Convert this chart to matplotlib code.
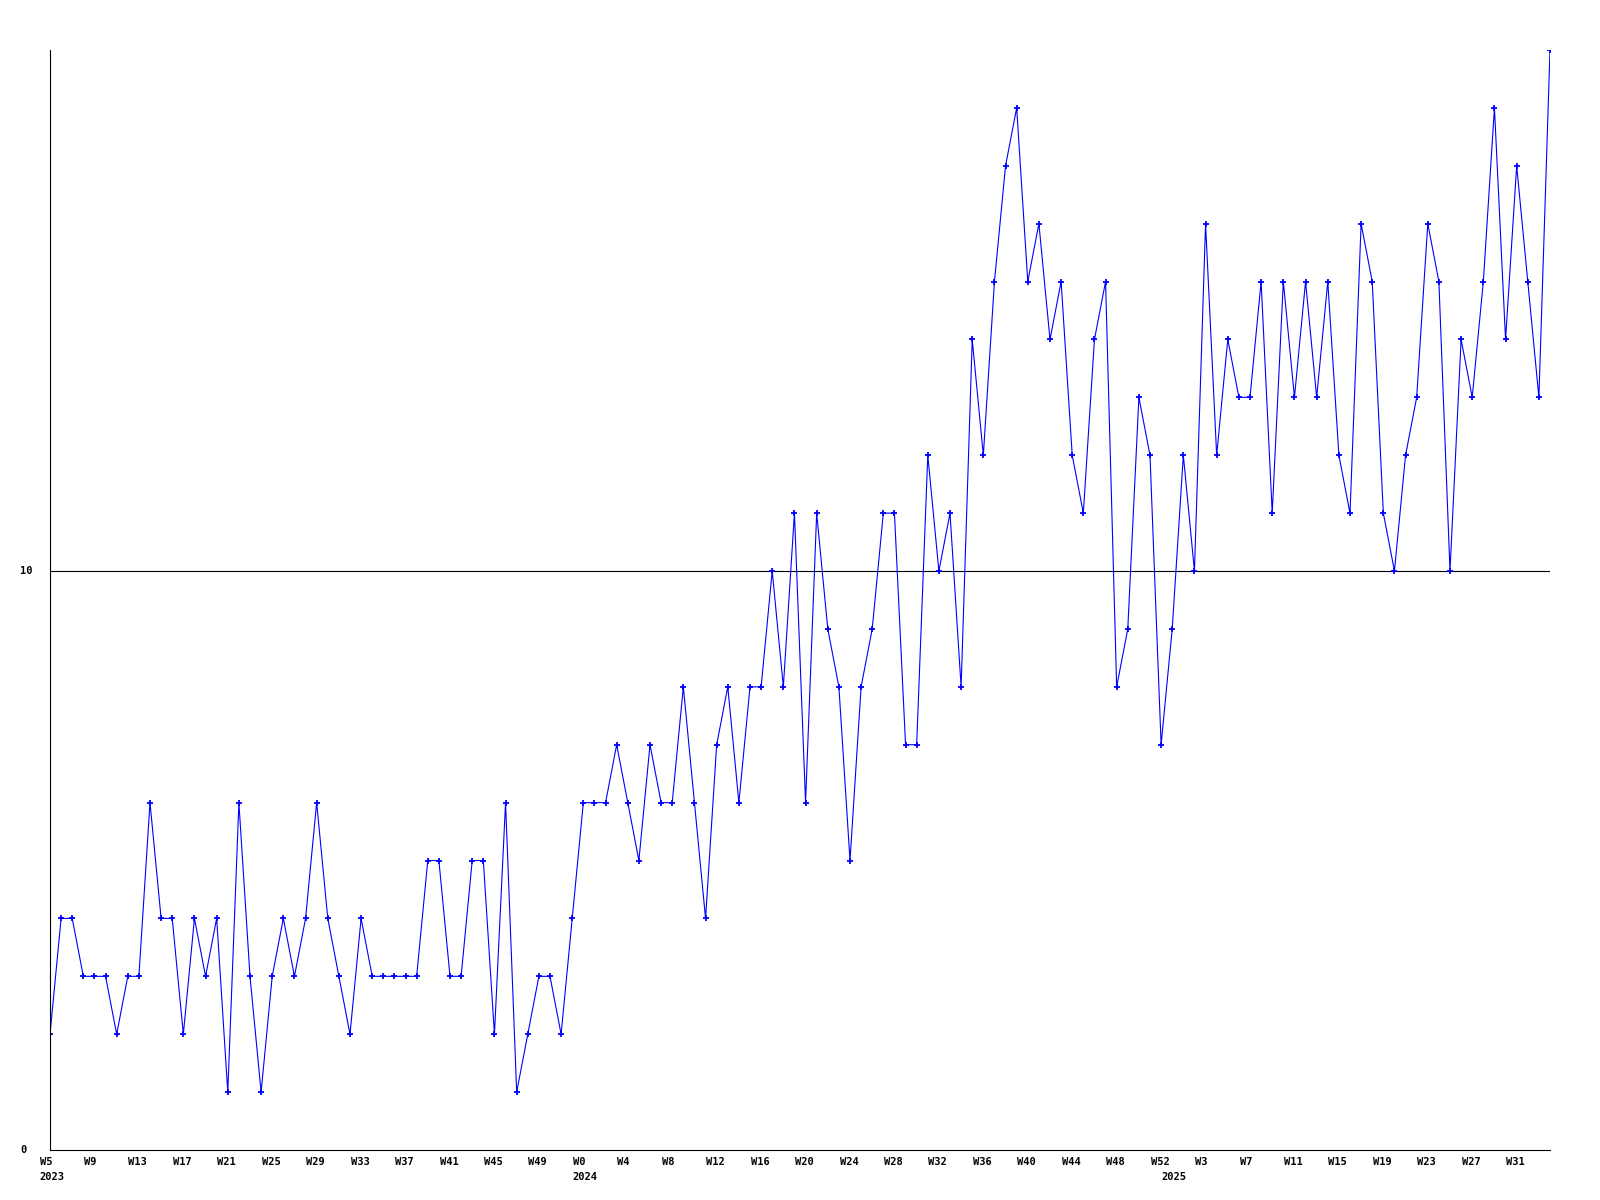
import matplotlib
matplotlib.use("Agg")
import matplotlib.pyplot as plt
from matplotlib import transforms

# weekly counts, 2023 W5 .. 2025 W34
values_2023 = [2, 4, 4, 3, 3, 3, 2, 3, 3, 6, 4, 4, 2, 4, 3, 4, 1, 6, 3, 1,
               3, 4, 3, 4, 6, 4, 3, 2, 4, 3, 3, 3, 3, 3, 5, 5, 3, 3, 5, 5,
               2, 6, 1, 2, 3, 3, 2, 4]
values_2024 = [6, 6, 6, 7, 6, 5, 7, 6, 6, 8, 6, 4, 7, 8, 6, 8, 8, 10, 8, 11,
               6, 11, 9, 8, 5, 8, 9, 11, 11, 7, 7, 12, 10, 11, 8, 14, 12, 15, 17, 18,
               15, 16, 14, 15, 12, 11, 14, 15, 8, 9, 13, 12, 7]
values_2025 = [9, 12, 10, 16, 12, 14, 13, 13, 15, 11, 15, 13, 15, 13, 15, 12, 11, 16, 15, 11,
               10, 12, 13, 16, 15, 10, 14, 13, 15, 18, 14, 17, 15, 13, 19]

weeks_2023 = list(range(5, 53))
weeks_2024 = list(range(0, 53))
weeks_2025 = list(range(0, 35))
years = ["2023", "2024", "2025"]

values = values_2023 + values_2024 + values_2025
week_labels = ["W%d" % w for w in weeks_2023 + weeks_2024 + weeks_2025]
xs = list(range(len(values)))
year_starts = [0, len(weeks_2023), len(weeks_2023) + len(weeks_2024)]

W, H = 1600, 1200
fig = plt.figure(figsize=(W / 100, H / 100), dpi=100)
ax = fig.add_axes([50 / W, 50 / H, 1500 / W, 1100 / H])

font = dict(family="DejaVu Sans Mono", weight="bold", size=7.5, color="black")

ax.plot(xs, values, color="#0000ff", lw=0.8, marker="+", ms=3.8, mew=1.3)
ax.axhline(10, color="black", lw=0.8, zorder=1)

ax.set_xlim(0, len(values) - 1)
ax.set_ylim(0, 19)
for s in ["top", "right"]:
    ax.spines[s].set_visible(False)
for s in ["left", "bottom"]:
    ax.spines[s].set_linewidth(0.8)
ax.set_xticks([])
ax.set_yticks([])

# y labels, left aligned at x=20px
ytrans = transforms.blended_transform_factory(fig.transFigure, ax.transData)
for v in [0, 10]:
    ax.text(20 / W, v, str(v), transform=ytrans, ha="left", va="center", **font)

# week and year labels under the axis
xtrans = transforms.offset_copy(
    transforms.blended_transform_factory(ax.transData, fig.transFigure),
    fig=fig, x=-10.5, y=0, units="dots")
for i in xs[::4]:
    ax.text(i, (H - 1162) / H, week_labels[i], transform=xtrans,
            ha="left", va="center", clip_on=False, **font)
for i, y in zip(year_starts, years):
    ax.text(i, (H - 1177) / H, y, transform=xtrans,
            ha="left", va="center", clip_on=False, **font)

fig.savefig("out.png", dpi=100)
